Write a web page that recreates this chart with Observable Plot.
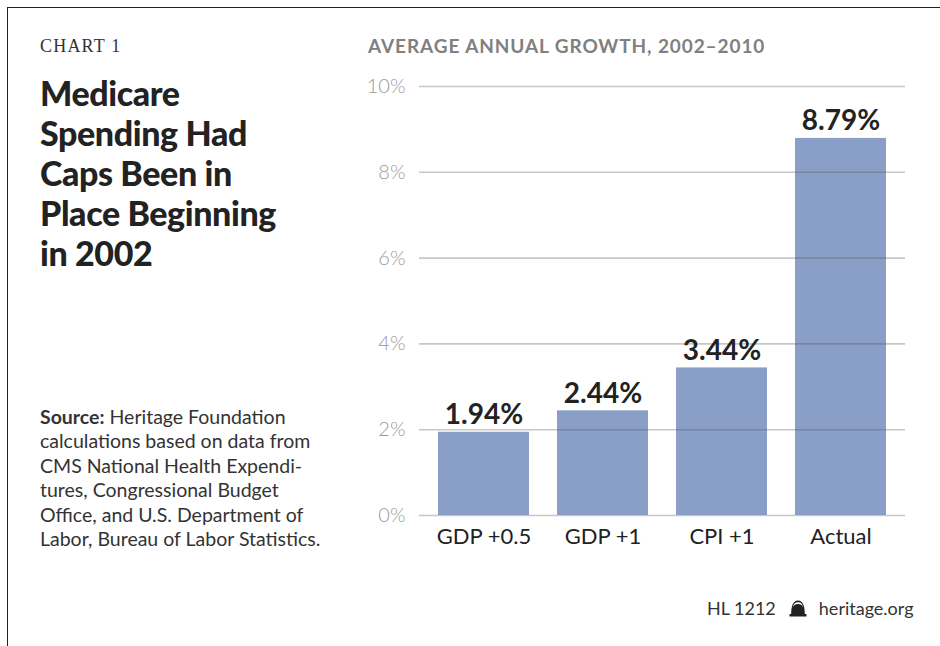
<!DOCTYPE html>
<html>
<head>
<meta charset="utf-8">
<script src="https://cdn.jsdelivr.net/npm/d3@7"></script>
<script src="https://cdn.jsdelivr.net/npm/@observablehq/plot@0.6"></script>
<style>
  html, body { margin: 0; padding: 0; background: #fff; }
  body { width: 940px; height: 646px; position: relative; overflow: hidden; font-family: Lato, "Open Sans", sans-serif; }
  #frame { position: absolute; left: 7px; top: 7px; right: -10px; bottom: -10px; border-left: 1.6px solid #222; border-top: 1.6px solid #222; }
  #chart { position: absolute; left: 0; top: 0; }
  .abs { position: absolute; white-space: nowrap; }
  #kicker { left: 40px; top: 36px; font-family: "Liberation Serif", "DejaVu Serif", serif; font-size: 18px; color: #333; letter-spacing: 1.2px; }
  #title { left: 40px; top: 73px; font-size: 34px; line-height: 40px; font-weight: 900; color: #222; letter-spacing: -0.4px; }
  #subtitle { left: 368px; top: 34px; font-size: 19px; font-weight: 700; color: #808080; letter-spacing: 0.9px; }
  #source { left: 40px; top: 405px; font-size: 19.5px; line-height: 24.4px; color: #333; }
  #footer { left: 707px; top: 597px; font-size: 18px; color: #333; display: flex; align-items: center; }
</style>
</head>
<body>
<div id="frame"></div>
<div id="chart"></div>
<div class="abs" id="kicker">CHART 1</div>
<div class="abs" id="title">Medicare<br>Spending Had<br>Caps Been in<br>Place Beginning<br>in 2002</div>
<div class="abs" id="subtitle">AVERAGE ANNUAL GROWTH, 2002–2010</div>
<div class="abs" id="source"><b>Source:</b> Heritage Foundation<br>calculations based on data from<br>CMS National Health Expendi-<br>tures, Congressional Budget<br>Office, and U.S. Department of<br>Labor, Bureau of Labor Statistics.</div>
<div class="abs" id="footer"><span>HL 1212</span>
  <svg width="18" height="18" viewBox="0 0 18 18" style="margin:0 12px 0 13px">
    <path d="M0.5 17.5 L17.5 17.5 L17.5 15 L15.8 15 C15.8 8 14.5 1.5 9 1.5 C3.5 1.5 2.2 8 2.2 15 L0.5 15 Z" fill="#222"/>
    <path d="M3.8 8.5 C4.6 4.2 6.6 3.2 9 3.2 C11.4 3.2 13.4 4.2 14.2 8.5 C13.2 5.8 11.4 5 9 5 C6.6 5 4.8 5.8 3.8 8.5 Z" fill="#fff"/>
  </svg>
  <span>heritage.org</span></div>
<script>
const categories = ["GDP +0.5", "GDP +1", "CPI +1", "Actual"];
const growth = [1.94, 2.44, 3.44, 8.79];
const yTicks = [0, 2, 4, 6, 8, 10];

const data = categories.map((c, i) => ({category: c, value: growth[i]}));

const chart = Plot.plot({
  width: 940,
  height: 646,
  marginLeft: 419,
  marginRight: 35,
  marginTop: 86,
  marginBottom: 131,
  style: {fontFamily: "Lato, 'Open Sans', sans-serif", background: "transparent", overflow: "visible"},
  x: {domain: categories, paddingInner: 0.236, paddingOuter: 0.16, label: null},
  y: {domain: [0, 10], label: null},
  marks: [
    Plot.barY(data, {x: "category", y: "value", fill: "#8a9fc8"}),
    Plot.gridY(yTicks, {stroke: "#555", strokeOpacity: 0.33, strokeWidth: 1.6}),
    Plot.axisY({ticks: yTicks, tickSize: 0, tickPadding: 14, tickFormat: d => d + "%", fontSize: 20, fontWeight: 300, fill: "#9a9a9a", label: null}),
    Plot.axisX({tickSize: 0, tickPadding: 13, fontSize: 22, fill: "#222", label: null}),
    Plot.text(data, {x: "category", y: "value", text: d => d.value.toFixed(2) + "%", dy: -8, lineAnchor: "bottom", fontSize: 28, fontWeight: 700, fill: "#222"})
  ]
});
document.getElementById("chart").appendChild(chart);
</script>
</body>
</html>
